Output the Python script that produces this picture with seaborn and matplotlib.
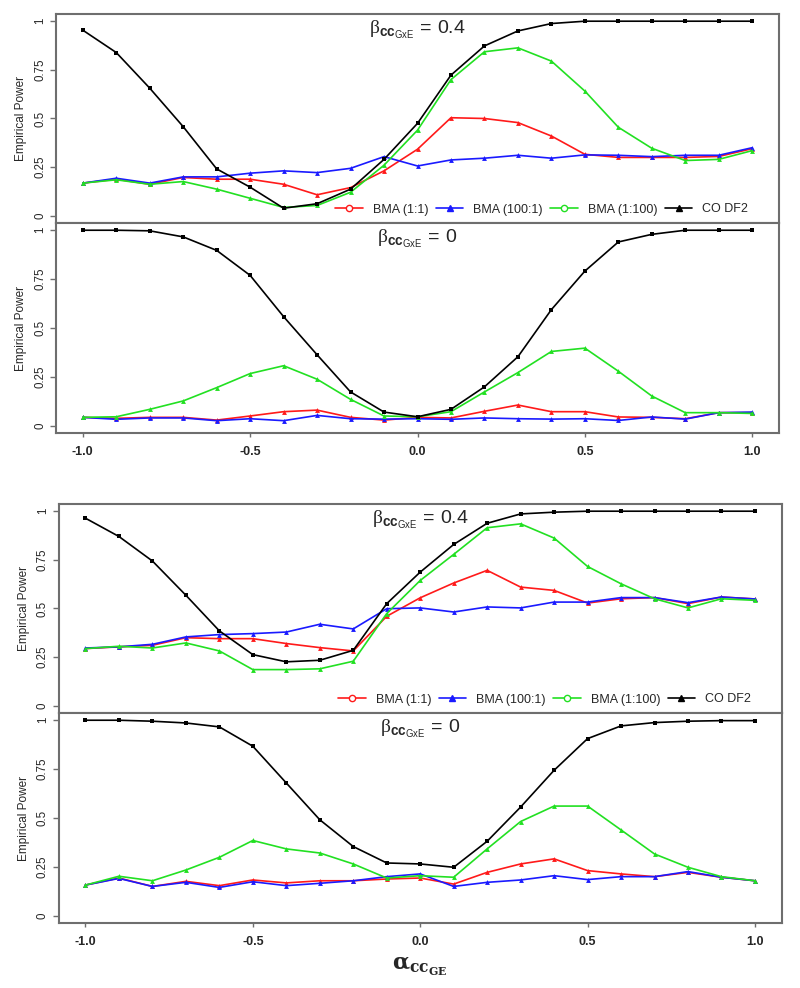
import numpy as np
import pandas as pd
import matplotlib
matplotlib.use("Agg")
import matplotlib.pyplot as plt
from matplotlib.lines import Line2D
import seaborn as sns

sns.set_style("white")
plt.rcParams['font.family'] = ['Liberation Sans', 'DejaVu Sans']
plt.rcParams['mathtext.fontset'] = 'custom'
plt.rcParams['mathtext.rm'] = 'Liberation Serif'
plt.rcParams['mathtext.sf'] = 'Liberation Sans'
plt.rcParams['mathtext.it'] = 'Liberation Sans:italic'
plt.rcParams['mathtext.bf'] = 'Liberation Sans:bold'

alpha_vals = [-1.0, -0.9, -0.8, -0.7, -0.6, -0.5, -0.4, -0.3, -0.2, -0.1, 0.0,
              0.1, 0.2, 0.3, 0.4, 0.5, 0.6, 0.7, 0.8, 0.9, 1.0]
methods = ["BMA (1:1)", "BMA (100:1)", "BMA (1:100)", "CO DF2"]

# Group 1, beta = 0.4
g1_b04_bma11 = [0.168, 0.188, 0.162, 0.197, 0.188, 0.188, 0.162, 0.108, 0.145, 0.231, 0.342,
                0.504, 0.500, 0.479, 0.410, 0.316, 0.300, 0.300, 0.300, 0.305, 0.345]
g1_b04_bma1001 = [0.168, 0.193, 0.168, 0.200, 0.200, 0.219, 0.231, 0.222, 0.244, 0.304, 0.256,
                  0.287, 0.296, 0.311, 0.296, 0.313, 0.311, 0.304, 0.311, 0.311, 0.350]
g1_b04_bma1100 = [0.168, 0.185, 0.162, 0.176, 0.137, 0.090, 0.043, 0.053, 0.121, 0.260, 0.440,
                  0.700, 0.843, 0.863, 0.795, 0.641, 0.455, 0.347, 0.284, 0.290, 0.335]
g1_b04_codf2 = [0.954, 0.839, 0.656, 0.458, 0.241, 0.147, 0.039, 0.062, 0.137, 0.290, 0.475,
                0.723, 0.873, 0.950, 0.988, 1.0, 1.0, 1.0, 1.0, 1.0, 1.0]

# Group 1, beta = 0
g1_b0_bma11 = [0.043, 0.038, 0.043, 0.043, 0.029, 0.050, 0.072, 0.080, 0.043, 0.029, 0.043,
               0.040, 0.074, 0.106, 0.072, 0.072, 0.045, 0.043, 0.036, 0.067, 0.067]
g1_b0_bma1001 = [0.043, 0.033, 0.040, 0.040, 0.026, 0.036, 0.026, 0.053, 0.036, 0.034, 0.036,
                 0.033, 0.040, 0.036, 0.034, 0.036, 0.027, 0.045, 0.034, 0.067, 0.070]
g1_b0_bma1100 = [0.043, 0.046, 0.084, 0.127, 0.195, 0.267, 0.307, 0.238, 0.135, 0.050, 0.046,
                 0.072, 0.173, 0.272, 0.380, 0.397, 0.279, 0.152, 0.067, 0.067, 0.063]
g1_b0_codf2 = [1.0, 1.0, 0.997, 0.966, 0.897, 0.769, 0.558, 0.363, 0.173, 0.070, 0.046,
               0.084, 0.199, 0.353, 0.594, 0.791, 0.940, 0.979, 1.0, 1.0, 1.0]

# Group 2, beta = 0.4
g2_b04_bma11 = [0.294, 0.303, 0.311, 0.350, 0.345, 0.345, 0.320, 0.299, 0.282, 0.460, 0.555,
                0.631, 0.696, 0.610, 0.593, 0.528, 0.550, 0.556, 0.525, 0.559, 0.549]
g2_b04_bma1001 = [0.297, 0.303, 0.316, 0.354, 0.366, 0.371, 0.379, 0.419, 0.395, 0.499, 0.503,
                  0.482, 0.508, 0.503, 0.533, 0.533, 0.556, 0.556, 0.530, 0.559, 0.549]
g2_b04_bma1100 = [0.294, 0.306, 0.297, 0.323, 0.282, 0.186, 0.186, 0.190, 0.229, 0.474, 0.644,
                  0.778, 0.915, 0.935, 0.862, 0.716, 0.627, 0.550, 0.503, 0.550, 0.542]
g2_b04_codf2 = [0.964, 0.870, 0.744, 0.568, 0.385, 0.263, 0.226, 0.234, 0.285, 0.525, 0.687,
                0.829, 0.938, 0.986, 0.995, 1.0, 1.0, 1.0, 1.0, 1.0, 1.0]

# Group 2, beta = 0
g2_b0_bma11 = [0.157, 0.193, 0.150, 0.176, 0.154, 0.183, 0.168, 0.179, 0.179, 0.188, 0.193,
               0.162, 0.222, 0.265, 0.291, 0.231, 0.214, 0.200, 0.222, 0.197, 0.179]
g2_b0_bma1001 = [0.157, 0.191, 0.150, 0.171, 0.145, 0.174, 0.154, 0.166, 0.179, 0.200, 0.214,
                 0.150, 0.171, 0.183, 0.205, 0.185, 0.200, 0.200, 0.226, 0.197, 0.179]
g2_b0_bma1100 = [0.157, 0.202, 0.179, 0.234, 0.299, 0.385, 0.342, 0.321, 0.265, 0.193, 0.205,
                 0.197, 0.342, 0.482, 0.561, 0.561, 0.439, 0.316, 0.248, 0.200, 0.179]
g2_b0_codf2 = [1.0, 1.0, 0.995, 0.986, 0.966, 0.867, 0.679, 0.491, 0.354, 0.270, 0.265,
               0.248, 0.381, 0.556, 0.744, 0.906, 0.971, 0.988, 0.995, 0.998, 0.998]

panels = [
    ("0.4", [g1_b04_bma11, g1_b04_bma1001, g1_b04_bma1100, g1_b04_codf2]),
    ("0", [g1_b0_bma11, g1_b0_bma1001, g1_b0_bma1100, g1_b0_codf2]),
    ("0.4", [g2_b04_bma11, g2_b04_bma1001, g2_b04_bma1100, g2_b04_codf2]),
    ("0", [g2_b0_bma11, g2_b0_bma1001, g2_b0_bma1100, g2_b0_codf2]),
]

colors = ["#FF1A1A", "#1A1AFF", "#22E022", "#000000"]
data_markers = ["^", "^", "^", "s"]
legend_markers = ["o", "^", "o", "^"]
legend_mfc = ["white", "#1A1AFF", "white", "#000000"]
frame_color = "#6E6E6E"

W, H = 800, 988
fig = plt.figure(figsize=(W / 100, H / 100), dpi=100)

# pixel boxes: (left, top, right, bottom)
boxes = [(56, 14, 779, 223), (56, 223, 779, 433),
         (58.7, 504, 781.7, 713), (58.7, 713, 781.7, 923)]

for i, ((bval, series), (l, t, r, b)) in enumerate(zip(panels, boxes)):
    ax = fig.add_axes([l / W, 1 - b / H, (r - l) / W, (b - t) / H])
    for name, vals, c, m in zip(methods, series, colors, data_markers):
        df = pd.DataFrame({"alpha": alpha_vals, "power": vals})
        sns.lineplot(data=df, x="alpha", y="power", ax=ax, color=c, marker=m,
                     markersize=3.2 if m == "s" else 3.5, markeredgewidth=0,
                     linewidth=1.2, legend=False, zorder=3 if c == "#000000" else 2)
    ax.set_xlim(-1.08, 1.08)
    ax.set_ylim(-0.037, 1.037)
    ax.set_yticks([0, 0.25, 0.5, 0.75, 1])
    ax.set_yticklabels(["0", "0.25", "0.5", "0.75", "1"], rotation=90, va="center",
                       fontsize=8.3)
    ax.set_ylabel("Empirical Power", fontsize=8.5, labelpad=5)
    ax.set_xlabel("")
    ax.tick_params(axis="y", direction="out", length=4, width=1, color=frame_color,
                   left=True, pad=3)
    for sp in ax.spines.values():
        sp.set_color(frame_color)
        sp.set_linewidth(1.5)
    if i % 2 == 1:
        ax.set_xticks([-1.0, -0.5, 0.0, 0.5, 1.0])
        ax.set_xticklabels(["-1.0", "-0.5", "0.0", "0.5", "1.0"], fontsize=9,
                           fontweight="bold")
        ax.tick_params(axis="x", direction="out", length=3, width=1,
                       color=frame_color, bottom=True, pad=6)
    else:
        ax.set_xticks([])
        handles = [Line2D([0], [0], color=c, lw=1.2, marker=m, markersize=4.5,
                          markerfacecolor=mfc, markeredgecolor=c, markeredgewidth=1)
                   for c, m, mfc in zip(colors, legend_markers, legend_mfc)]
        ax.legend(handles, methods, loc="lower right", bbox_to_anchor=(0.968, 0.0),
                  ncol=4, frameon=False, fontsize=9, handlelength=2.2,
                  handletextpad=0.8, columnspacing=0.6, borderaxespad=0.2)
    ax.text(0.5, 0.925,
            r"$\mathrm{\beta}_{\mathbf{cc}_{\mathsf{GxE}}}\mathsf{\,=\,}\mathsf{" + bval + "}$",
            transform=ax.transAxes, ha="center", va="center", fontsize=14)
    if i == 3:
        ax.set_xlabel(r"$\mathbf{\alpha_{cc_{GE}}}$", fontsize=16,
                      math_fontfamily="dejavuserif", labelpad=6)

fig.savefig("out.png", dpi=100)
